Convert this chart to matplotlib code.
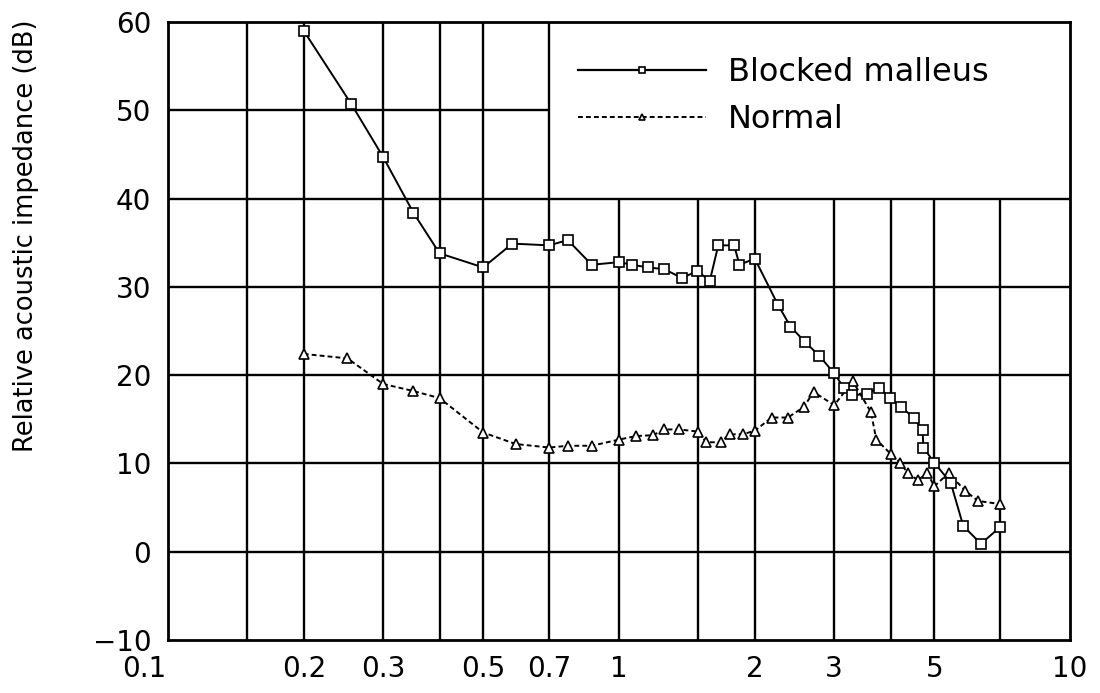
import matplotlib
matplotlib.use("Agg")
import matplotlib.pyplot as plt
from matplotlib.transforms import ScaledTranslation

# ---- data ----
blocked_freq = [0.2, 0.255, 0.3, 0.35, 0.4, 0.5, 0.58, 0.7, 0.77, 0.87, 1.0, 1.07, 1.16, 1.26,
                1.38, 1.49, 1.59, 1.66, 1.8, 1.85, 2.0, 2.25, 2.4, 2.58, 2.78, 3.0, 3.15, 3.29,
                3.54, 3.78, 3.98, 4.23, 4.51, 4.71, 4.73, 5.0, 5.44, 5.8, 6.35, 7.0]
blocked_db = [59.0, 50.7, 44.7, 38.4, 33.8, 32.2, 34.9, 34.7, 35.3, 32.5, 32.8, 32.5, 32.2, 32.0,
              31.0, 31.8, 30.7, 34.7, 34.7, 32.5, 33.2, 28.0, 25.5, 23.8, 22.2, 20.2, 18.6, 17.7,
              17.9, 18.6, 17.4, 16.4, 15.1, 13.8, 11.8, 10.1, 7.8, 2.9, 0.9, 2.8]

normal_freq = [0.2, 0.25, 0.3, 0.35, 0.4, 0.5, 0.59, 0.7, 0.77, 0.87, 1.0, 1.09, 1.19, 1.26,
               1.36, 1.5, 1.56, 1.68, 1.76, 1.88, 2.0, 2.18, 2.37, 2.57, 2.7, 3.0, 3.3, 3.62,
               3.72, 4.0, 4.2, 4.37, 4.6, 4.83, 5.0, 5.38, 5.86, 6.25, 7.0]
normal_db = [22.4, 21.9, 19.0, 18.2, 17.4, 13.5, 12.2, 11.8, 12.0, 12.0, 12.7, 13.1, 13.2, 13.85,
             13.85, 13.6, 12.4, 12.4, 13.3, 13.3, 13.7, 15.2, 15.2, 16.4, 18.1, 16.6, 19.3, 15.8,
             12.7, 11.1, 10.1, 8.9, 8.1, 8.9, 7.4, 8.9, 6.9, 5.75, 5.4]

x_ticks = [0.1, 0.2, 0.3, 0.5, 0.7, 1, 2, 3, 5, 10]
x_tick_labels = ["0.1", "0.2", "0.3", "0.5", "0.7", "1", "2", "3", "5", "10"]
x_grid = [0.15, 0.2, 0.3, 0.4, 0.5, 0.7, 1, 1.5, 2, 3, 4, 5, 7]
y_ticks = [-10, 0, 10, 20, 30, 40, 50, 60]
y_grid = [0, 10, 20, 30, 40, 50]
series_labels = ["Blocked malleus", "Normal"]
y_label = "Relative acoustic impedance (dB)"

plt.rcParams['font.family'] = ['DejaVu Sans']

fig = plt.figure(figsize=(11, 6.93), dpi=100)
ax = fig.add_axes([168/1100, 1-640/693, (1070-168)/1100, (640-22)/693])
ax.set_xscale('log')
ax.set_xlim(0.1, 10)
ax.set_ylim(-10, 60)

# grid (legend region in upper right is left blank)
legend_x0 = 0.7
legend_y0 = 40
for xv in x_grid:
    top = legend_y0 if xv > legend_x0 else 60
    ax.plot([xv, xv], [-10, top], color='black', lw=1.7, zorder=1, solid_capstyle='butt')
for yv in y_grid:
    right = legend_x0 if yv > legend_y0 else 10
    ax.plot([0.1, right], [yv, yv], color='black', lw=1.7, zorder=1, solid_capstyle='butt')

ax.plot(blocked_freq, blocked_db, color='black', lw=1.4, marker='s', ms=7,
        mfc='white', mec='black', mew=1.2, zorder=3, label=series_labels[0])
ax.plot(normal_freq, normal_db, color='black', lw=1.4, linestyle=(0, (2.5, 1.6)),
        marker='^', ms=7.5, mfc='white', mec='black', mew=1.2, zorder=2,
        label=series_labels[1])

ax.set_xticks(x_ticks)
ax.set_xticklabels(x_tick_labels)
ax.xaxis.set_minor_locator(matplotlib.ticker.NullLocator())
ax.set_yticks(y_ticks)
ax.tick_params(axis='both', length=0, labelsize=20, colors='black')
ax.tick_params(axis='x', pad=11)
ax.tick_params(axis='y', pad=12)
first = ax.get_xticklabels()[0]
first.set_transform(first.get_transform() + ScaledTranslation(-24/100, 0, fig.dpi_scale_trans))

for s in ax.spines.values():
    s.set_linewidth(2.0)

fig.text(26/1100, 1-236/693, y_label, rotation=90, ha='center', va='center', fontsize=18.5)

ax.legend(handles=[
    matplotlib.lines.Line2D([], [], color='black', lw=1.6, marker='s', ms=4.5, mfc='white', mec='black', mew=1.2),
    matplotlib.lines.Line2D([], [], color='black', lw=1.4, linestyle=(0, (2.5, 1.6)), marker='^', ms=4.5, mfc='white', mec='black', mew=1.2)],
    labels=series_labels, loc='upper left', bbox_to_anchor=(578/1100, 1-57/693),
    bbox_transform=fig.transFigure, frameon=False, fontsize=23, handlelength=4.0,
    handletextpad=0.7, labelspacing=0.5, borderpad=0, borderaxespad=0)

fig.savefig("out.png", dpi=100, facecolor='white')
